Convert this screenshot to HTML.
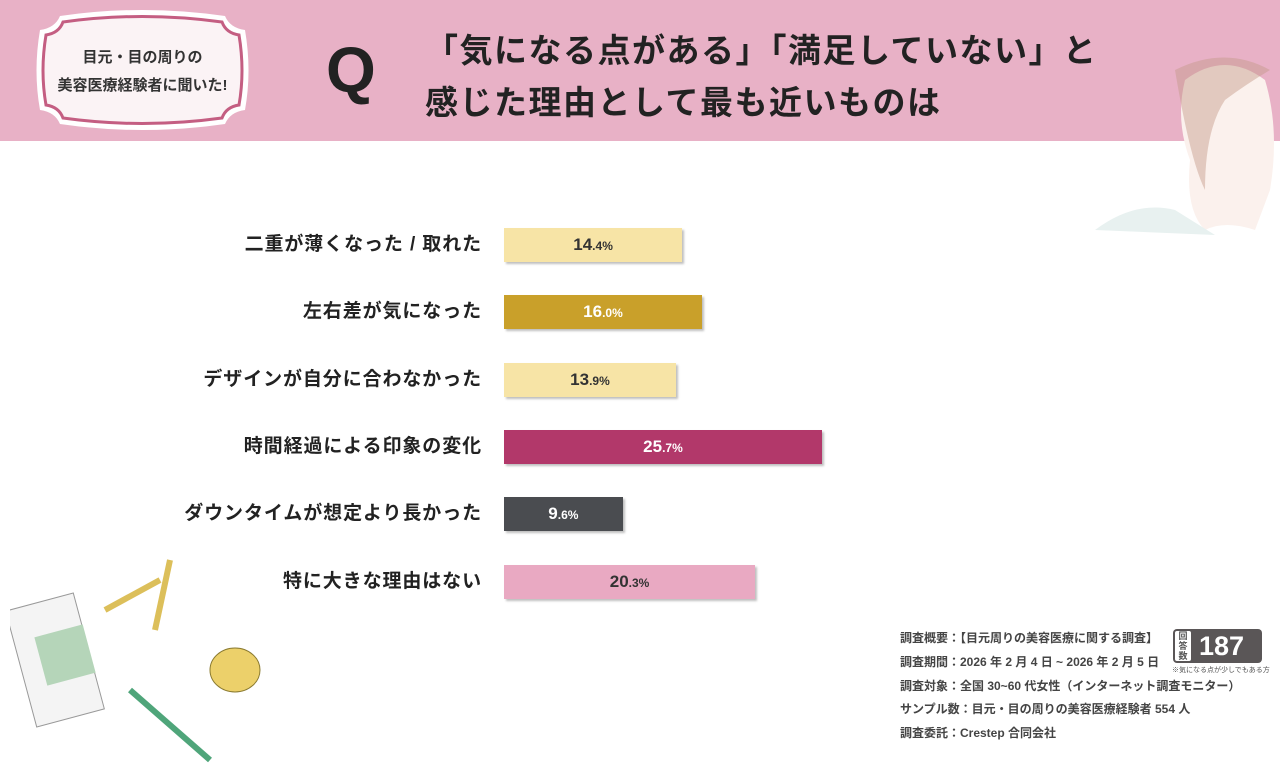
<!DOCTYPE html>
<html><head><meta charset="utf-8">
<style>
body{margin:0;width:1280px;height:767px;background:#fff;position:relative;overflow:hidden;font-family:"Liberation Sans","Noto Sans CJK JP",sans-serif;color:#222}
.hdr{position:absolute;left:0;top:0;width:1280px;height:141px;background:#e8b1c6}
.abs{position:absolute}
.lbl{position:absolute;right:798px;font-size:19px;font-weight:bold;color:#222;white-space:nowrap;line-height:34px;letter-spacing:0.9px}
.bar{position:absolute;left:504px;height:34px;box-shadow:2px 2px 2px rgba(0,0,0,0.25)}
.val{position:absolute;font-weight:bold;font-size:17px;line-height:34px;transform:translateX(-50%);white-space:nowrap}
.val small{font-size:12px}
.info{position:absolute;left:900px;font-size:12px;font-weight:bold;color:#444;white-space:nowrap}
</style></head><body>
<div class="hdr"></div>
<svg class="abs" style="left:30px;top:6px" width="225" height="130">
<path d="M30,10 Q112,-2 195,10 Q200,22 215,24 Q222,65 215,104 Q200,106 195,118 Q112,130 30,118 Q25,106 10,104 Q3,65 10,24 Q25,22 30,10Z" fill="#fff"/>
<path d="M33,16 Q112,5 192,16 Q196,27 209,29 Q215,65 209,99 Q196,101 192,112 Q112,123 33,112 Q29,101 16,99 Q10,65 16,29 Q29,27 33,16Z" fill="#fbf3f5" stroke="#c45e82" stroke-width="3"/>
</svg>
<div class="abs" style="left:40px;top:44px;width:205px;text-align:center;font-size:15px;font-weight:bold;line-height:28px;color:#333">目元・目の周りの<br>美容医療経験者に聞いた!</div>
<div class="abs" style="left:326px;top:34px;font-size:64px;font-weight:bold;line-height:72px;color:#222">Q</div>
<div class="abs" style="left:425px;top:25px;font-size:33px;font-weight:bold;line-height:52px;color:#222;white-space:nowrap;letter-spacing:1.5px">「気になる点がある」「満足していない」と<br>感じた理由として最も近いものは</div>
<svg class="abs" style="left:1095px;top:40px" width="185" height="195">
<path d="M90,40 Q130,10 170,40 Q185,90 175,150 L160,190 Q130,180 110,190 Q90,170 95,120 Q80,80 90,40Z" fill="#fbf1ed"/>
<path d="M80,30 Q130,5 175,30 Q150,45 130,60 Q110,90 110,150 Q95,120 80,30Z" fill="#c49a88" opacity="0.45"/>
<path d="M0,190 Q40,160 80,170 L120,195Z" fill="#e8f1f0"/>
</svg>
<svg class="abs" style="left:10px;top:540px" width="270" height="227">
<rect x="10" y="60" width="70" height="120" transform="rotate(-15 45 120)" fill="#f4f4f4" stroke="#999"/>
<rect x="30" y="90" width="50" height="50" transform="rotate(-15 55 115)" fill="#b5d5b9"/>
<line x1="95" y1="70" x2="150" y2="40" stroke="#dcbf5a" stroke-width="6"/>
<line x1="145" y1="90" x2="160" y2="20" stroke="#dcbf5a" stroke-width="6"/>
<ellipse cx="225" cy="130" rx="25" ry="22" fill="#ecd06a" stroke="#8a7a30"/>
<line x1="120" y1="150" x2="200" y2="220" stroke="#4fa57a" stroke-width="6"/>
</svg>
<div id="chart"></div>
<div class="info" style="top:629px">調査概要：【目元周りの美容医療に関する調査】</div>
<div class="info" style="top:653px">調査期間：2026 年 2 月 4 日 ~ 2026 年 2 月 5 日</div>
<div class="info" style="top:677px">調査対象：全国 30~60 代女性（インターネット調査モニター）</div>
<div class="info" style="top:700px">サンプル数：目元・目の周りの美容医療経験者 554 人</div>
<div class="info" style="top:724px">調査委託：Crestep 合同会社</div>
<div class="abs" style="left:1173px;top:629px;width:89px;height:34px;background:#5a5657;border-radius:4px">
<div class="abs" style="left:2px;top:2px;width:16px;height:30px;background:#fff;border-radius:2px;font-size:9px;line-height:10px;text-align:center;color:#555;font-weight:bold">回答数</div>
<div class="abs" style="left:26px;top:0;font-size:27px;line-height:34px;color:#fff;font-weight:bold">187</div></div>
<div class="abs" style="left:1172px;top:665px;font-size:7px;color:#555;white-space:nowrap">※気になる点が少しでもある方</div>
<script>
const categories=["二重が薄くなった / 取れた","左右差が気になった","デザインが自分に合わなかった","時間経過による印象の変化","ダウンタイムが想定より長かった","特に大きな理由はない"];
const values=[14.4,16.0,13.9,25.7,9.6,20.3];
const colors=["#f7e4a6","#c9a02a","#f7e4a6","#b2386a","#4a4c50","#e9a9c2"];
const textColors=["#333","#fff","#333","#fff","#fff","#333"];
const x=v=>v*12.37, y=i=>228+i*67.3;
const c=document.getElementById('chart');
categories.forEach((cat,i)=>{
 const l=document.createElement('div');l.className='lbl';l.style.top=y(i)+'px';l.textContent=cat;
 
 
 c.appendChild(l);
 const b=document.createElement('div');b.className='bar';b.style.top=y(i)+'px';b.style.width=x(values[i])+'px';b.style.background=colors[i];
 
 
 c.appendChild(b);
 const t=document.createElement('div');t.className='val';t.style.top=y(i)+'px';t.style.left=(504+x(values[i])/2)+'px';t.style.color=textColors[i];
 const p=values[i].toFixed(1).split('.');t.innerHTML=p[0]+'<small>.'+p[1]+'%</small>';
 
 
 c.appendChild(t);
});
</script>
</body></html>
